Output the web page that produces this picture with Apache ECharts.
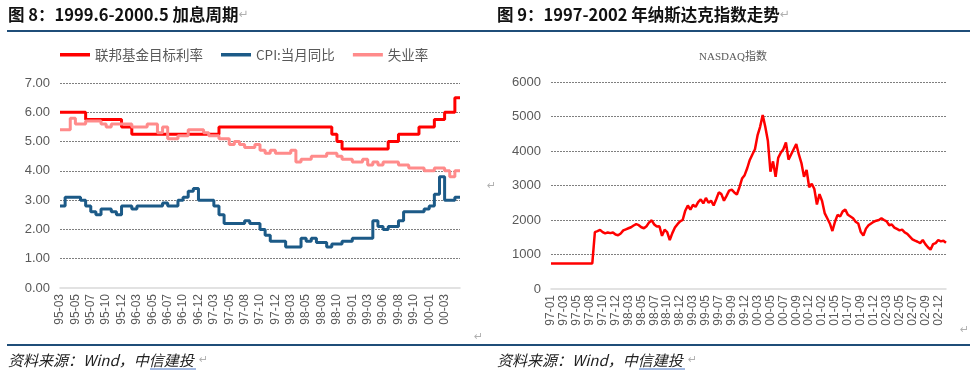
<!DOCTYPE html>
<html>
<head>
<meta charset="utf-8">
<script src="https://cdn.jsdelivr.net/npm/echarts@6/dist/echarts.min.js"></script>
<style>
  html, body { margin: 0; padding: 0; background: #fff; }
  #main { width: 973px; height: 375px; }
</style>
</head>
<body>
<div id="main"></div>
<script>
// ---- left chart: 1999.6-2000.5 rate hike cycle ----
const rateTicks = ['95-03', '95-05', '95-07', '95-10', '95-12', '96-03', '96-05', '96-07', '96-10', '96-12',
  '97-03', '97-05', '97-08', '97-10', '97-12', '98-03', '98-05', '98-08', '98-10', '99-01',
  '99-03', '99-06', '99-08', '99-10', '00-01', '00-03'];
const rateStep = 3; // observations between two labels

const fedRate = [6, 6, 6, 6, 6,
  5.75, 5.75, 5.75, 5.75, 5.75, 5.75, 5.75,
  5.5, 5.5,
  5.25, 5.25, 5.25, 5.25, 5.25, 5.25, 5.25, 5.25, 5.25, 5.25, 5.25, 5.25, 5.25, 5.25, 5.25, 5.25, 5.25,
  5.5, 5.5, 5.5, 5.5, 5.5, 5.5, 5.5, 5.5, 5.5, 5.5, 5.5, 5.5, 5.5, 5.5, 5.5, 5.5, 5.5, 5.5, 5.5, 5.5, 5.5, 5.5,
  5.25, 5,
  4.75, 4.75, 4.75, 4.75, 4.75, 4.75, 4.75, 4.75, 4.75,
  5, 5,
  5.25, 5.25, 5.25, 5.25,
  5.5, 5.5, 5.5,
  5.75, 5.75,
  6, 6,
  6.5, 6.5];

const cpiYoy = [2.8, 3.1, 3.1, 3.1, 3.0, 2.8, 2.6, 2.5, 2.7, 2.7,
  2.6, 2.5, 2.8, 2.8, 2.7, 2.8, 2.8, 2.8, 2.8, 2.8,
  2.9, 2.8, 2.8, 3.0, 3.1, 3.3, 3.4, 3.0, 3.0, 3.0,
  2.8, 2.5, 2.2, 2.2, 2.2, 2.2, 2.3, 2.2, 2.2, 2.0,
  1.8, 1.6, 1.6, 1.6, 1.4, 1.4, 1.4, 1.7, 1.6, 1.7,
  1.55, 1.55, 1.4, 1.5, 1.5, 1.6, 1.6, 1.7, 1.7, 1.7,
  1.7, 2.3, 2.1, 2.0, 2.1, 2.1, 2.3, 2.6, 2.6, 2.6,
  2.6, 2.7, 2.8, 3.2, 3.8, 3.0, 3.0, 3.1, 3.1];

const unemployment = [5.4, 5.4, 5.8, 5.6, 5.6, 5.7, 5.7, 5.7, 5.6, 5.5,
  5.6, 5.6, 5.6, 5.6, 5.5, 5.5, 5.5, 5.6, 5.6, 5.3,
  5.5, 5.1, 5.1, 5.2, 5.2, 5.4, 5.4, 5.4, 5.3, 5.2,
  5.2, 5.1, 5.1, 4.9, 5.0, 4.9, 4.8, 4.8, 4.9, 4.7,
  4.6, 4.7, 4.6, 4.6, 4.6, 4.7, 4.3, 4.4, 4.4, 4.5,
  4.5, 4.5, 4.6, 4.6, 4.5, 4.4, 4.4, 4.3, 4.3, 4.4,
  4.2, 4.3, 4.2, 4.3, 4.3, 4.3, 4.2, 4.2, 4.1, 4.1,
  4.1, 4.0, 4.0, 4.1, 4.1, 4.0, 3.8, 4.0, 4.0];

// ---- right chart: NASDAQ 1997-2002 ----
const nasdaqTicks = ['97-01', '97-03', '97-05', '97-08', '97-10', '97-12', '98-03', '98-05', '98-07', '98-10',
  '98-12', '99-03', '99-05', '99-07', '99-09', '99-12', '00-03', '00-05', '00-07', '00-09',
  '00-12', '01-02', '01-05', '01-07', '01-09', '01-12', '02-03', '02-05', '02-07', '02-09', '02-12'];
const nasdaqStep = 5;

const nasdaq = [740, 740, 740, 740, 740, 740, 740, 740, 740, 740,
  740, 740, 740, 740, 740, 740, 740, 1650, 1680, 1715,
  1650, 1610, 1640, 1620, 1640, 1580, 1560, 1610, 1700, 1730,
  1760, 1790, 1840, 1880, 1850, 1790, 1760, 1820, 1930, 1990,
  1870, 1810, 1820, 1540, 1720, 1650, 1420, 1620, 1780, 1880,
  1960, 2000, 2270, 2420, 2300, 2440, 2380, 2520, 2600, 2480,
  2640, 2500, 2560, 2420, 2600, 2800, 2750, 2560, 2700, 2850,
  2880, 2800, 2740, 2950, 3200, 3300, 3500, 3740, 3900, 4050,
  4450, 4700, 5040, 4700, 4300, 3400, 3700, 3250, 3800, 3950,
  4050, 4250, 3750, 3900, 4050, 4200, 3900, 3650, 3250, 3450,
  2950, 3050, 2900, 2450, 2750, 2550, 2200, 2050, 1900, 1680,
  1950, 2150, 2100, 2250, 2300, 2150, 2100, 2050, 1950, 1900,
  1650, 1550, 1750, 1850, 1900, 1950, 1980, 2000, 2050, 2000,
  1960, 1850, 1870, 1780, 1740, 1700, 1720, 1640, 1600, 1520,
  1440, 1400, 1370, 1330, 1420, 1300, 1210, 1140, 1300, 1330,
  1420, 1380, 1400, 1340];

// category names: every step-th observation carries a tick label
function buildCats(ticks, step, n) {
  const out = [];
  for (let i = 0; i < n; i++) {
    const k = Math.min(Math.floor(i / step), ticks.length - 1);
    const off = i - k * step;
    out.push(off ? ticks[k] + '+' + off : ticks[k]);
  }
  return out;
}

const rateCats = buildCats(rateTicks, rateStep, fedRate.length);
const nasdaqCats = buildCats(nasdaqTicks, nasdaqStep, nasdaq.length);

const GRAY = '#595959';
const RULE = '#1f4e79';
const NUM_FONT = 'Liberation Sans';
const CJK_FONT = 'Noto Sans CJK SC';

function catAxis(gridIndex, cats, ticks, step) {
  return {
    type: 'category',
    gridIndex: gridIndex,
    data: cats,
    boundaryGap: false,
    axisLine: { lineStyle: { color: '#d9d9d9', width: 1.5 } },
    axisTick: { show: false },
    axisLabel: {
      rotate: 90,
      margin: 6,
      fontSize: 12,
      color: GRAY,
      fontFamily: NUM_FONT,
      interval: function (i) {
        return i % step === 0 && i / step < ticks.length;
      }
    },
    splitLine: { show: false }
  };
}

function valAxis(gridIndex, max, interval, digits) {
  return {
    type: 'value',
    gridIndex: gridIndex,
    min: 0,
    max: max,
    interval: interval,
    axisLine: { show: false },
    axisTick: { show: false },
    axisLabel: {
      margin: 10,
      fontSize: 13,
      color: GRAY,
      fontFamily: NUM_FONT,
      formatter: v => v.toFixed(digits)
    },
    splitLine: {
      showMinLine: false,
      lineStyle: { color: '#7f7f7f', type: [2, 1], width: 1 }
    }
  };
}

function stepLine(name, data, color) {
  return {
    name: name,
    type: 'line',
    xAxisIndex: 0,
    yAxisIndex: 0,
    step: 'end',
    data: data,
    showSymbol: false,
    symbol: 'none',
    lineStyle: { color: color, width: 3 },
    itemStyle: { color: color },
    animation: false
  };
}

function para(x, y) {
  return { type: 'text', x: x, y: y, style: { text: '↵', fill: '#b0b0b0', font: '11px "DejaVu Sans"', textVerticalAlign: 'middle' } };
}

function source(x) {
  return {
    type: 'text', x: x, y: 360,
    style: { text: '资料来源：Wind，中信建投', fill: '#222', font: 'italic 15px "Noto Sans CJK SC"', textVerticalAlign: 'middle' }
  };
}

const chart = echarts.init(document.getElementById('main'));

chart.setOption({
  animation: false,
  backgroundColor: '#fff',
  grid: [
    { left: 60, top: 83, width: 400, height: 205 },
    { left: 551, top: 82, width: 395, height: 207 }
  ],
  legend: {
    left: 60,
    top: 48,
    padding: 0,
    icon: 'rect',
    itemWidth: 30,
    itemHeight: 3.5,
    itemGap: 18,
    textStyle: { color: GRAY, fontSize: 13.5, fontFamily: CJK_FONT },
    data: ['联邦基金目标利率', 'CPI:当月同比', '失业率']
  },
  xAxis: [
    catAxis(0, rateCats, rateTicks, rateStep),
    catAxis(1, nasdaqCats, nasdaqTicks, nasdaqStep)
  ],
  yAxis: [
    valAxis(0, 7, 1, 2),
    valAxis(1, 6000, 1000, 0)
  ],
  series: [
    stepLine('联邦基金目标利率', fedRate, '#ff0000'),
    stepLine('CPI:当月同比', cpiYoy, '#1c5a87'),
    stepLine('失业率', unemployment, '#ff8b8b'),
    {
      name: 'NASDAQ指数',
      type: 'line',
      xAxisIndex: 1,
      yAxisIndex: 1,
      data: nasdaq,
      showSymbol: false,
      symbol: 'none',
      lineStyle: { color: '#ff0000', width: 2.5 },
      animation: false
    }
  ],
  graphic: [
    {
      type: 'text', x: 8, y: 15,
      style: {
        text: '{t|图 8：1999.6-2000.5 加息周期}{m|↵}',
        textVerticalAlign: 'middle',
        rich: {
          t: { font: 'bold 16.5px "Noto Sans CJK SC"', fill: '#111' },
          m: { font: '12px "DejaVu Sans"', fill: '#b0b0b0' }
        }
      }
    },
    {
      type: 'text', x: 497, y: 15,
      style: {
        text: '{t|图 9：1997-2002 年纳斯达克指数走势}{m|↵}',
        textVerticalAlign: 'middle',
        rich: {
          t: { font: 'bold 16.5px "Noto Sans CJK SC"', fill: '#111' },
          m: { font: '12px "DejaVu Sans"', fill: '#b0b0b0' }
        }
      }
    },
    { type: 'line', shape: { x1: 7, y1: 31, x2: 970, y2: 31 }, style: { stroke: RULE, lineWidth: 2 } },
    { type: 'line', shape: { x1: 7, y1: 345, x2: 970, y2: 345 }, style: { stroke: RULE, lineWidth: 2 } },
    {
      type: 'text', x: 733, y: 57,
      style: { text: 'NASDAQ指数', fill: GRAY, font: '11px "Liberation Serif", "Noto Sans CJK SC"', textAlign: 'center', textVerticalAlign: 'middle' }
    },
    source(8),
    source(497),
    { type: 'line', shape: { x1: 150, y1: 369, x2: 196, y2: 369 }, style: { stroke: '#4472c4', lineWidth: 1 } },
    { type: 'line', shape: { x1: 639, y1: 369, x2: 685, y2: 369 }, style: { stroke: '#4472c4', lineWidth: 1 } },
    para(199, 360),
    para(688, 360),
    para(474, 337),
    para(487, 186),
    para(960, 330)
  ]
});
</script>
</body>
</html>
